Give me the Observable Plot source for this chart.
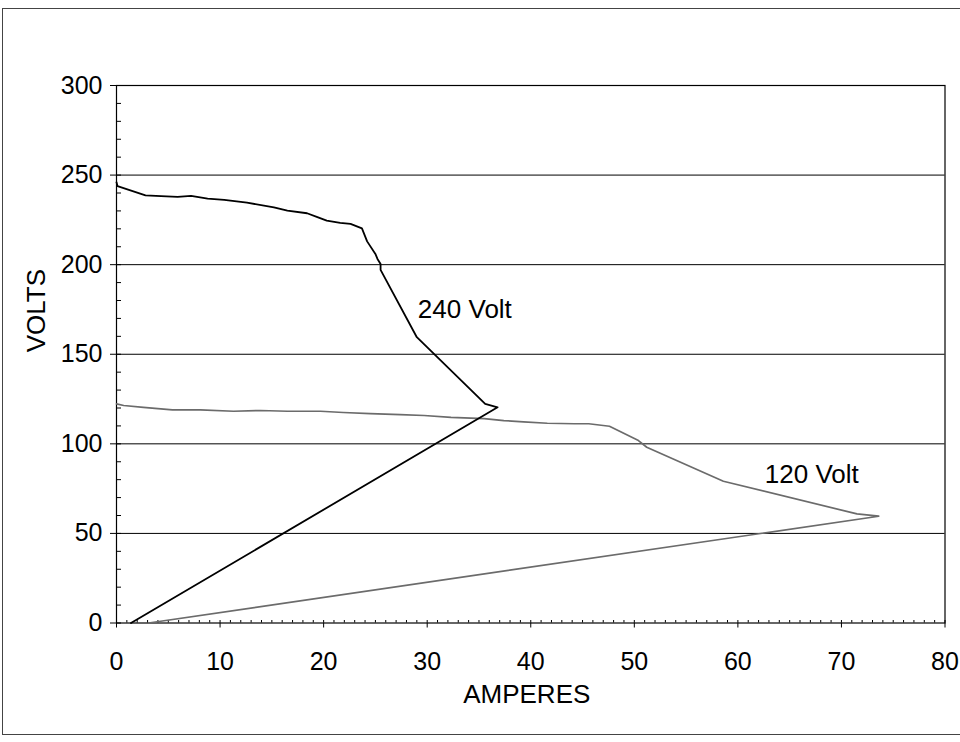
<!DOCTYPE html>
<html><head><meta charset="utf-8">
<script src="https://cdn.jsdelivr.net/npm/d3@7"></script>
<script src="https://cdn.jsdelivr.net/npm/@observablehq/plot@0.6"></script>
<style>
html,body{margin:0;padding:0;background:#fff;}
#wrap{position:relative;width:960px;height:742px;overflow:hidden;}
#chart{position:absolute;left:0;top:0;}
#border{position:absolute;left:2px;top:8px;width:970px;height:727px;border:1.5px solid #444;box-sizing:border-box;pointer-events:none;}
</style></head><body>
<div id="wrap"><div id="chart"></div><div id="border"></div></div>
<script>
// 240 Volt series (amperes, volts)
const amps240  = [0, 0.1, 2.8, 4.3, 5.9, 7.2, 8.8, 10.4, 12.6, 15.2, 16.5, 18.4, 19.4, 20.3, 21.6, 22.6, 23.7, 24.2, 25.0, 25.2, 25.5, 25.5, 29.0, 35.6, 36.8, 1.4];
const volts240 = [246, 243.8, 238.7, 238.2, 237.8, 238.4, 236.9, 236.2, 234.6, 232, 230.2, 228.7, 226.5, 224.6, 223.3, 222.8, 220.3, 213, 206, 203.2, 200.4, 197.1, 159.5, 122.3, 120.4, 0];
// 120 Volt series
const amps120  = [0, 0.7, 2.6, 5.4, 8.1, 11.3, 13.9, 16.5, 19.7, 21.9, 24.5, 27.4, 29.7, 32.3, 35.5, 37.4, 39.3, 41.6, 44.2, 45.6, 47.6, 50.4, 51.2, 58.6, 71.5, 73.6, 3.1];
const volts120 = [122.3, 121.4, 120.4, 119, 119, 118.2, 118.6, 118.2, 118.2, 117.5, 116.9, 116.3, 115.8, 114.8, 114.1, 113, 112.3, 111.5, 111.2, 111.2, 109.8, 101.8, 98.1, 79.1, 60.9, 59.6, 0];

const xTicks = [0, 10, 20, 30, 40, 50, 60, 70, 80];
const yTicks = [0, 50, 100, 150, 200, 250, 300];
const gridY = [50, 100, 150, 200, 250];
const xMinor = d3.range(0, 81, 1);
const yMinor = d3.range(0, 301, 10);

const seriesNames = ["240 Volt", "120 Volt"];
const labelAmps = [29.1, 62.6];
const labelVolts = [175, 82.6];
const xTitle = "AMPERES";
const yTitle = "VOLTS";

const rows240 = amps240.map((a, i) => ({a, v: volts240[i]}));
const rows120 = amps120.map((a, i) => ({a, v: volts120[i]}));
const labels = seriesNames.map((name, i) => ({name, a: labelAmps[i], v: labelVolts[i]}));

const plot = Plot.plot({
  width: 960, height: 742,
  marginLeft: 116, marginRight: 15.5, marginTop: 85, marginBottom: 119.5,
  x: {domain: [0, 80]},
  y: {domain: [0, 300]},
  style: {fontFamily: "'Liberation Sans', Arial, sans-serif", fontSize: "25px", color: "#000", background: "#fff"},
  marks: [
    Plot.ruleY(gridY, {stroke: "#000", strokeWidth: 1}),
    Plot.frame({stroke: "#000", strokeWidth: 1.2}),
    Plot.axisX(xMinor, {tickSize: -2.5, tickFormat: () => "", label: null}),
    Plot.axisY(yMinor, {tickSize: -5, tickFormat: () => "", label: null}),
    Plot.axisX(xTicks, {tickSize: 5, tickPadding: 24, label: null, fontSize: 25}),
    Plot.axisY(yTicks, {tickSize: 6, tickPadding: 8, label: null, fontSize: 25}),
    Plot.line(rows120, {x: "a", y: "v", stroke: "#6b6b6b", strokeWidth: 1.7}),
    Plot.line(rows240, {x: "a", y: "v", stroke: "#000", strokeWidth: 1.8}),
    Plot.text(labels, {x: "a", y: "v", text: "name", textAnchor: "start", fontSize: 26, fill: "#000"}),
    Plot.text([xTitle], {text: d => d, frameAnchor: "bottom", dy: 79.5, dx: -4, fontSize: 26}),
    Plot.text([yTitle], {text: d => d, frameAnchor: "left", dx: -79.5, dy: -2, rotate: -90, fontSize: 26})
  ]
});
document.getElementById("chart").appendChild(plot);
</script>
</body></html>
